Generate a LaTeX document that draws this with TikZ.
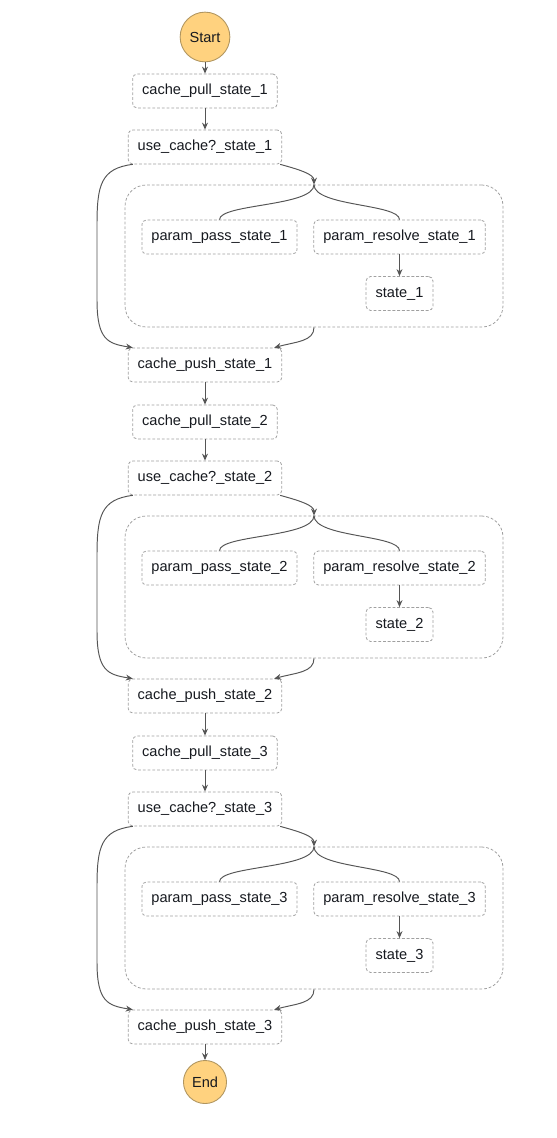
\documentclass[tikz,border=0pt]{standalone}
\usepackage{fontspec}
\setmainfont{Liberation Sans}
\usetikzlibrary{arrows.meta,calc}
\definecolor{termfill}{HTML}{FFD27F}
\definecolor{termdraw}{HTML}{B0955F}
\definecolor{edgegray}{HTML}{555555}
\definecolor{boxgray}{HTML}{A0A0A0}
\definecolor{labeltext}{HTML}{16191F}

\begin{document}
\begin{tikzpicture}[
    x=0.02cm, y=-0.02cm,
    % node styles
    term node/.style={circle, draw=termdraw, fill=termfill, line width=0.5pt, text=labeltext, font=\fontsize{8.3}{10}\selectfont, inner sep=0pt},
    state node/.style={draw=boxgray, dash pattern=on 1.6pt off 1.1pt, line width=0.45pt, rounded corners=2.5pt, fill=white, text=labeltext, font=\fontsize{8.3}{10}\selectfont, inner xsep=5.4pt, minimum height=19.3pt},
    par node/.style={draw=boxgray, dash pattern=on 1.6pt off 1.1pt, line width=0.45pt, rounded corners=12pt, minimum width=7.56cm, minimum height=2.84cm},
    % edge styles
    flow/.style={draw=edgegray, line width=0.55pt, -{Stealth[length=4pt,width=3.4pt]}},
    branch/.style={draw=edgegray, line width=0.55pt}
]
\useasboundingbox (0,0) rectangle (556,1138);

\node[term node, minimum size=28.3pt] (start) at (205,37) {Start};

% one block per state: pull, check, parallel, push
\foreach \i/\dy in {1/0, 2/331, 3/662}{
    \begin{scope}[shift={(0,\dy)}]
        \node[state node] (pull\i) at (205,91) {cache\_pull\_state\_\i};
        \node[state node] (use\i) at (205,147) {use\_cache?\_state\_\i};
        \node[par node] (par\i) at (314,256) {};
        \node[state node] (pp\i) at (219.5,237) {param\_pass\_state\_\i};
        \node[state node] (pr\i) at (399.5,237) {param\_resolve\_state\_\i};
        \node[state node] (st\i) at (399.5,293.5) {state\_\i};
        \node[state node] (push\i) at (205,365) {cache\_push\_state\_\i};

        \draw[flow] (pull\i) -- (use\i);
        % into the parallel branch
        \draw[flow] ($(use\i.south east)+(-2,0)$) .. controls +(22,6) and +(0,-10) .. (par\i.north);
        \draw[branch] (par\i.north) .. controls +(0,22) and +(0,-16) .. (pp\i.north);
        \draw[branch] (par\i.north) .. controls +(0,22) and +(0,-16) .. (pr\i.north);
        \draw[flow] (pr\i) -- (st\i);
        \draw[flow] (par\i.south) .. controls +(0,14) and +(22,-6) .. ($(push\i.north east)+(-8,0)$);
        % cache hit: skip the branch
        \draw[flow] ($(use\i.south west)+(5,0)$) .. controls +(-32,4) and +(0,-40) .. (97,225)
            -- (97,300) .. controls +(0,40) and +(-25,-4) .. ($(push\i.north west)+(5,0)$);
    \end{scope}
}

\node[term node, minimum size=24.5pt] (end) at (205,1082) {End};

\draw[flow] (start) -- (pull1);
\foreach \i/\j in {1/2, 2/3}{
    \draw[flow] (push\i) -- (pull\j);
}
\draw[flow] (push3) -- (end);

\end{tikzpicture}
\end{document}
